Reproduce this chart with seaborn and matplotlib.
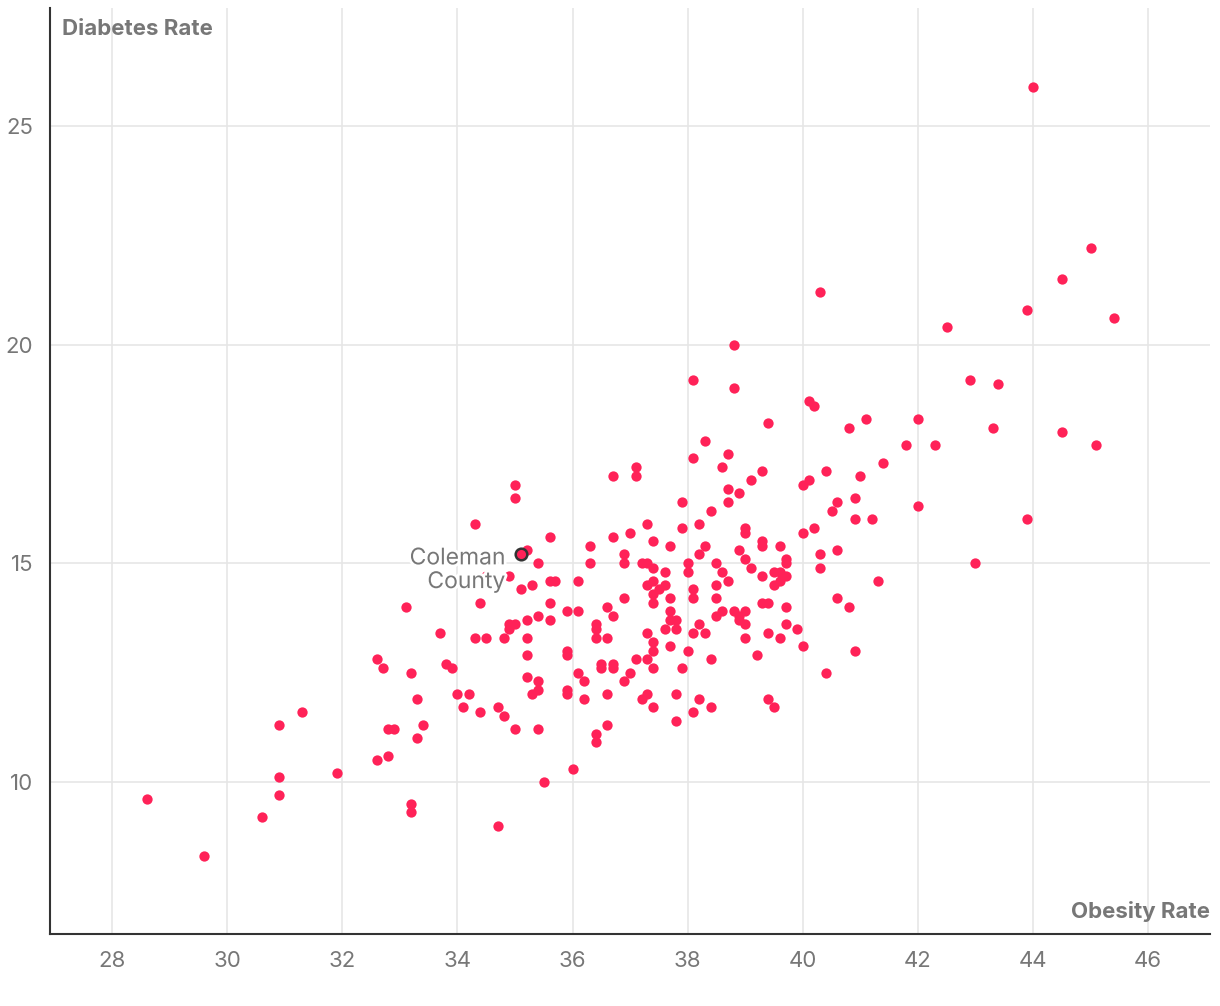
import numpy as np
import pandas as pd
import matplotlib
matplotlib.use("Agg")
import matplotlib.pyplot as plt
import matplotlib.patheffects as pe
import seaborn as sns

# county values (obesity %, diabetes %)
obesity = [
    28.6, 29.6, 30.6, 30.9, 30.9, 30.9, 31.3, 31.9, 32.6, 32.7, 32.6, 32.8, 32.9, 32.8,
    33.1, 33.2, 33.3, 33.4, 33.3, 33.2, 33.2,
    35.0, 35.0, 34.3, 35.6, 35.2, 35.4, 34.5, 34.9, 35.1, 35.3, 35.6, 35.7, 36.1, 34.4,
    35.6, 35.4, 35.2, 35.6, 35.9, 36.1, 34.9, 35.0, 34.9, 33.7, 34.3, 34.5, 34.8, 35.2,
    35.2, 35.9, 35.9, 33.8, 33.9, 36.1, 35.2, 35.4, 35.4, 35.3, 35.9, 35.9, 34.0, 34.2,
    34.1, 34.4, 34.7, 34.8, 35.0, 35.4, 36.0, 35.5, 34.7,
    38.1, 38.7, 38.6, 37.1, 37.1, 36.7, 39.1, 38.7, 38.9, 38.7, 37.9, 38.4, 37.3, 38.2,
    37.9, 39.0, 39.0, 37.0, 36.7, 37.4, 37.7, 36.3, 38.3, 38.9, 38.2, 36.9, 36.9, 36.3,
    37.2, 37.3, 37.4, 39.0, 38.0, 38.0, 38.5, 38.6, 37.6, 39.1, 37.4, 37.3, 37.6, 37.5,
    37.4, 38.7, 38.1, 38.1, 38.5, 36.9, 37.7, 37.4, 38.5, 36.6, 36.7, 37.7, 37.7, 37.8,
    37.8, 37.6, 38.5, 38.6, 38.8, 38.9, 38.9, 39.0, 39.0, 36.4, 36.4, 36.4, 36.6, 37.3,
    38.2, 38.1, 38.3, 37.4, 37.4, 37.7, 38.0, 39.0,
    36.5, 36.5, 36.7, 36.7, 37.1, 37.3, 37.4, 37.9, 38.4, 37.0, 36.2, 36.9, 36.6, 36.2,
    37.2, 37.3, 37.4, 37.8, 38.2, 38.1, 38.4, 37.8, 36.6, 36.4, 36.4, 38.3,
    40.1, 40.2, 39.4, 41.1, 40.8, 42.0, 41.8, 41.4, 39.3, 40.4, 40.0, 40.1, 41.0, 40.6,
    40.5, 40.9, 40.9, 41.2, 42.0, 40.0, 40.2, 39.3, 39.3, 39.6, 39.7, 39.7, 40.3, 40.6,
    40.3, 39.3, 39.5, 39.6, 39.6, 39.5, 39.7, 41.3, 39.3, 39.4, 39.7, 40.6, 40.8, 39.7,
    39.9, 39.4, 39.6, 40.0, 40.9, 39.2, 40.4, 39.4, 39.5,
    40.3, 38.8, 38.1, 38.8,
    44.0, 45.0, 44.5, 43.9, 45.4, 42.5, 42.9, 43.4, 42.3, 43.3, 44.5, 45.1, 43.9, 43.0,
]
diabetes = [
    9.6, 8.3, 9.2, 11.3, 10.1, 9.7, 11.6, 10.2, 12.8, 12.6, 10.5, 11.2, 11.2, 10.6,
    14.0, 12.5, 11.9, 11.3, 11.0, 9.5, 9.3,
    16.8, 16.5, 15.9, 15.6, 15.3, 15.0, 14.7, 14.7, 14.4, 14.5, 14.6, 14.6, 14.6, 14.1,
    14.1, 13.8, 13.7, 13.7, 13.9, 13.9, 13.6, 13.6, 13.5, 13.4, 13.3, 13.3, 13.3, 13.3,
    12.9, 13.0, 12.9, 12.7, 12.6, 12.5, 12.4, 12.3, 12.1, 12.0, 12.1, 12.0, 12.0, 12.0,
    11.7, 11.6, 11.7, 11.5, 11.2, 11.2, 10.3, 10.0, 9.0,
    17.4, 17.5, 17.2, 17.2, 17.0, 17.0, 16.9, 16.7, 16.6, 16.4, 16.4, 16.2, 15.9, 15.9,
    15.8, 15.8, 15.7, 15.7, 15.6, 15.5, 15.4, 15.4, 15.4, 15.3, 15.2, 15.2, 15.0, 15.0,
    15.0, 15.0, 14.9, 15.1, 15.0, 14.8, 15.0, 14.8, 14.8, 14.9, 14.6, 14.5, 14.5, 14.4,
    14.3, 14.6, 14.4, 14.2, 14.5, 14.2, 14.2, 14.1, 14.2, 14.0, 13.8, 13.9, 13.7, 13.7,
    13.5, 13.5, 13.8, 13.9, 13.9, 13.8, 13.7, 13.9, 13.6, 13.6, 13.5, 13.3, 13.3, 13.4,
    13.6, 13.4, 13.4, 13.2, 13.0, 13.1, 13.0, 13.3,
    12.7, 12.6, 12.7, 12.6, 12.8, 12.8, 12.6, 12.6, 12.8, 12.5, 12.3, 12.3, 12.0, 11.9,
    11.9, 12.0, 11.7, 12.0, 11.9, 11.6, 11.7, 11.4, 11.3, 11.1, 10.9, 17.8,
    18.7, 18.6, 18.2, 18.3, 18.1, 18.3, 17.7, 17.3, 17.1, 17.1, 16.8, 16.9, 17.0, 16.4,
    16.2, 16.5, 16.0, 16.0, 16.3, 15.7, 15.8, 15.5, 15.4, 15.4, 15.1, 15.0, 15.2, 15.3,
    14.9, 14.7, 14.8, 14.8, 14.6, 14.5, 14.7, 14.6, 14.1, 14.1, 14.0, 14.2, 14.0, 13.6,
    13.5, 13.4, 13.3, 13.1, 13.0, 12.9, 12.5, 11.9, 11.7,
    21.2, 20.0, 19.2, 19.0,
    25.9, 22.2, 21.5, 20.8, 20.6, 20.4, 19.2, 19.1, 17.7, 18.1, 18.0, 17.7, 16.0, 15.0,
]

highlight_name = "Coleman\nCounty"
highlight_obesity = 35.1
highlight_diabetes = 15.2

x_ticks = [28, 30, 32, 34, 36, 38, 40, 42, 44, 46]
y_ticks = [10, 15, 20, 25]

df = pd.DataFrame({"obesity": obesity, "diabetes": diabetes})
hl = pd.DataFrame({"obesity": [highlight_obesity], "diabetes": [highlight_diabetes]})

sns.set_theme(style="white")
plt.rcParams["font.family"] = ["Inter", "DejaVu Sans"]

red = "#ff2258"
grey = "#777777"

fig = plt.figure(figsize=(12.2, 10.06), dpi=100)
ax = fig.add_axes([0.041, 0.0716, 0.951, 0.9205])

sns.scatterplot(data=df, x="obesity", y="diabetes", ax=ax, color=red, s=55,
                linewidth=0, zorder=3)

# label first so the white halo sits over the dots, then the highlighted dot
txt = ax.text(highlight_obesity - 0.27, highlight_diabetes - 0.36, highlight_name,
              ha="right", va="center", fontsize=16.5, color=grey, zorder=4,
              linespacing=1.1)
txt.set_path_effects([pe.withStroke(linewidth=4, foreground="white")])
sns.scatterplot(data=hl, x="obesity", y="diabetes", ax=ax, color=red, s=70,
                edgecolor="#333333", linewidth=1.8, zorder=5)

ax.set_xlim(26.92, 47.08)
ax.set_ylim(6.52, 27.7)
ax.set_xticks(x_ticks)
ax.set_yticks(y_ticks)
ax.grid(True, color="#e6e6e6", linewidth=1.2, zorder=0)
ax.set_axisbelow(True)
ax.tick_params(axis="both", length=0, labelsize=16, labelcolor=grey, pad=12)

for side in ["top", "right"]:
    ax.spines[side].set_visible(False)
for side in ["left", "bottom"]:
    ax.spines[side].set_color("#333333")
    ax.spines[side].set_linewidth(1.5)

ax.set_xlabel("")
ax.set_ylabel("")
ax.text(0.01, 0.988, "Diabetes Rate", transform=ax.transAxes, ha="left", va="top",
        fontsize=16, fontweight="bold", color=grey)
ax.text(1.0, 0.013, "Obesity Rate", transform=ax.transAxes, ha="right", va="bottom",
        fontsize=16, fontweight="bold", color=grey)

fig.savefig("out.png", dpi=100)
